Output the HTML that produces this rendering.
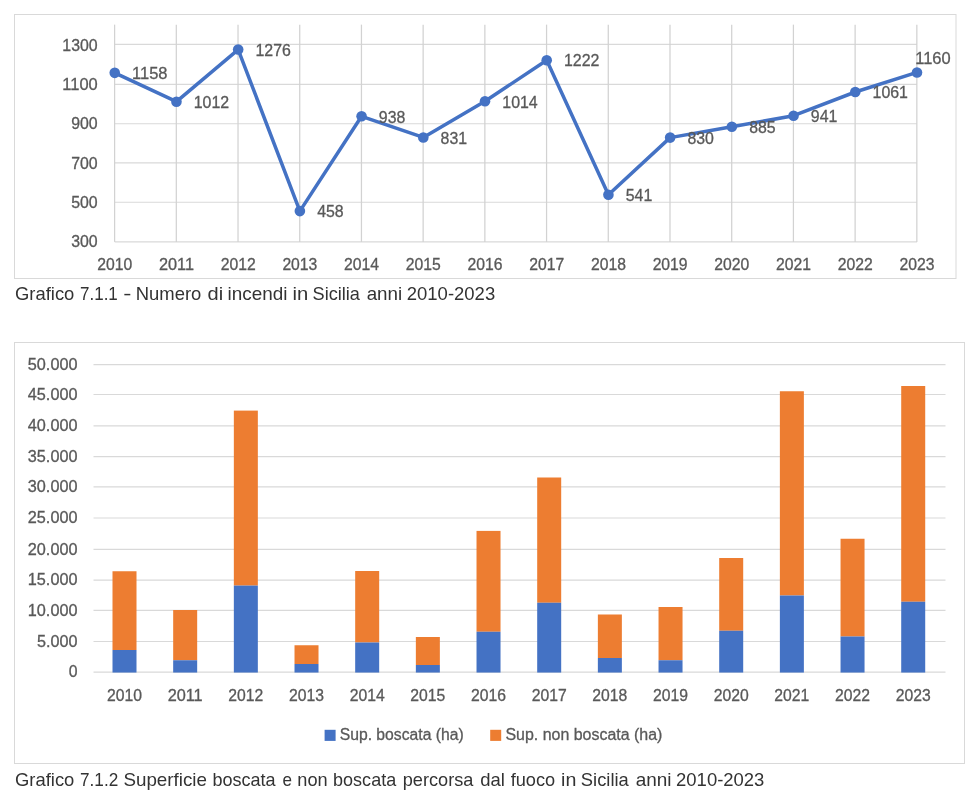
<!DOCTYPE html>
<html lang="it"><head><meta charset="utf-8"><title>Grafici incendi Sicilia 2010-2023</title>
<style>
html,body{margin:0;padding:0;background:#fff;}
body{width:979px;height:800px;overflow:hidden;}
svg{display:block;}
text{font-family:"Liberation Sans",sans-serif;}
.t{font-size:15.8px;fill:#595959;stroke:#595959;stroke-width:0.3px;}
.cap text{font-size:18.2px;fill:#333;}
</style></head><body>
<svg width="979" height="800" viewBox="0 0 979 800">
<rect x="0" y="0" width="979" height="800" fill="#ffffff"/>
<g id="chart1">
<rect x="14.5" y="14.5" width="941.5" height="264" fill="#fff" stroke="#d9d9d9" stroke-width="1"/>
<line x1="114.75" x2="916.98" y1="241.9" y2="241.9" stroke="#d9d9d9" stroke-width="1.2"/>
<line x1="114.75" x2="916.98" y1="202.25" y2="202.25" stroke="#d9d9d9" stroke-width="1.2"/>
<line x1="114.75" x2="916.98" y1="162.9" y2="162.9" stroke="#d9d9d9" stroke-width="1.2"/>
<line x1="114.75" x2="916.98" y1="123.75" y2="123.75" stroke="#d9d9d9" stroke-width="1.2"/>
<line x1="114.75" x2="916.98" y1="84.4" y2="84.4" stroke="#d9d9d9" stroke-width="1.2"/>
<line x1="114.75" x2="916.98" y1="44.4" y2="44.4" stroke="#d9d9d9" stroke-width="1.2"/>
<line x1="114.6" x2="114.6" y1="24.65" y2="241.90" stroke="#d2d2d2" stroke-width="1.25"/>
<line x1="176.31" x2="176.31" y1="24.65" y2="241.90" stroke="#d2d2d2" stroke-width="1.25"/>
<line x1="238.02" x2="238.02" y1="24.65" y2="241.90" stroke="#d2d2d2" stroke-width="1.25"/>
<line x1="299.73" x2="299.73" y1="24.65" y2="241.90" stroke="#d2d2d2" stroke-width="1.25"/>
<line x1="361.44" x2="361.44" y1="24.65" y2="241.90" stroke="#d2d2d2" stroke-width="1.25"/>
<line x1="423.15" x2="423.15" y1="24.65" y2="241.90" stroke="#d2d2d2" stroke-width="1.25"/>
<line x1="484.86" x2="484.86" y1="24.65" y2="241.90" stroke="#d2d2d2" stroke-width="1.25"/>
<line x1="546.57" x2="546.57" y1="24.65" y2="241.90" stroke="#d2d2d2" stroke-width="1.25"/>
<line x1="608.28" x2="608.28" y1="24.65" y2="241.90" stroke="#d2d2d2" stroke-width="1.25"/>
<line x1="669.99" x2="669.99" y1="24.65" y2="241.90" stroke="#d2d2d2" stroke-width="1.25"/>
<line x1="731.7" x2="731.7" y1="24.65" y2="241.90" stroke="#d2d2d2" stroke-width="1.25"/>
<line x1="793.41" x2="793.41" y1="24.65" y2="241.90" stroke="#d2d2d2" stroke-width="1.25"/>
<line x1="855.12" x2="855.12" y1="24.65" y2="241.90" stroke="#d2d2d2" stroke-width="1.25"/>
<line x1="916.83" x2="916.83" y1="24.65" y2="241.90" stroke="#d2d2d2" stroke-width="1.25"/>
<text class="t" x="97.70" y="246.75" text-anchor="end" textLength="26.5" lengthAdjust="spacingAndGlyphs">300</text>
<text class="t" x="97.70" y="207.95" text-anchor="end" textLength="26.5" lengthAdjust="spacingAndGlyphs">500</text>
<text class="t" x="97.70" y="168.75" text-anchor="end" textLength="26.5" lengthAdjust="spacingAndGlyphs">700</text>
<text class="t" x="97.70" y="128.65" text-anchor="end" textLength="26.5" lengthAdjust="spacingAndGlyphs">900</text>
<text class="t" x="97.70" y="89.90" text-anchor="end" textLength="35.4" lengthAdjust="spacingAndGlyphs">1100</text>
<text class="t" x="97.70" y="50.65" text-anchor="end" textLength="35.4" lengthAdjust="spacingAndGlyphs">1300</text>
<text class="t" x="114.75" y="270.25" text-anchor="middle" textLength="35" lengthAdjust="spacingAndGlyphs">2010</text>
<text class="t" x="176.46" y="270.25" text-anchor="middle" textLength="35" lengthAdjust="spacingAndGlyphs">2011</text>
<text class="t" x="238.17" y="270.25" text-anchor="middle" textLength="35" lengthAdjust="spacingAndGlyphs">2012</text>
<text class="t" x="299.88" y="270.25" text-anchor="middle" textLength="35" lengthAdjust="spacingAndGlyphs">2013</text>
<text class="t" x="361.59" y="270.25" text-anchor="middle" textLength="35" lengthAdjust="spacingAndGlyphs">2014</text>
<text class="t" x="423.30" y="270.25" text-anchor="middle" textLength="35" lengthAdjust="spacingAndGlyphs">2015</text>
<text class="t" x="485.01" y="270.25" text-anchor="middle" textLength="35" lengthAdjust="spacingAndGlyphs">2016</text>
<text class="t" x="546.72" y="270.25" text-anchor="middle" textLength="35" lengthAdjust="spacingAndGlyphs">2017</text>
<text class="t" x="608.43" y="270.25" text-anchor="middle" textLength="35" lengthAdjust="spacingAndGlyphs">2018</text>
<text class="t" x="670.14" y="270.25" text-anchor="middle" textLength="35" lengthAdjust="spacingAndGlyphs">2019</text>
<text class="t" x="731.85" y="270.25" text-anchor="middle" textLength="35" lengthAdjust="spacingAndGlyphs">2020</text>
<text class="t" x="793.56" y="270.25" text-anchor="middle" textLength="35" lengthAdjust="spacingAndGlyphs">2021</text>
<text class="t" x="855.27" y="270.25" text-anchor="middle" textLength="35" lengthAdjust="spacingAndGlyphs">2022</text>
<text class="t" x="916.98" y="270.25" text-anchor="middle" textLength="35" lengthAdjust="spacingAndGlyphs">2023</text>
<polyline points="114.75,72.84 176.46,101.68 238.17,49.54 299.88,211.09 361.59,116.30 423.30,137.43 485.01,101.28 546.72,60.21 608.43,194.70 670.14,137.62 731.85,126.76 793.56,115.70 855.27,92.00 916.98,72.45" fill="none" stroke="#4472c4" stroke-width="3.5" stroke-linejoin="round" stroke-linecap="round"/>
<circle cx="114.75" cy="72.84" r="5.3" fill="#4472c4"/>
<circle cx="176.46" cy="101.68" r="5.3" fill="#4472c4"/>
<circle cx="238.17" cy="49.54" r="5.3" fill="#4472c4"/>
<circle cx="299.88" cy="211.09" r="5.3" fill="#4472c4"/>
<circle cx="361.59" cy="116.30" r="5.3" fill="#4472c4"/>
<circle cx="423.30" cy="137.43" r="5.3" fill="#4472c4"/>
<circle cx="485.01" cy="101.28" r="5.3" fill="#4472c4"/>
<circle cx="546.72" cy="60.21" r="5.3" fill="#4472c4"/>
<circle cx="608.43" cy="194.70" r="5.3" fill="#4472c4"/>
<circle cx="670.14" cy="137.62" r="5.3" fill="#4472c4"/>
<circle cx="731.85" cy="126.76" r="5.3" fill="#4472c4"/>
<circle cx="793.56" cy="115.70" r="5.3" fill="#4472c4"/>
<circle cx="855.27" cy="92.00" r="5.3" fill="#4472c4"/>
<circle cx="916.98" cy="72.45" r="5.3" fill="#4472c4"/>
<text class="t" x="132.05" y="79.09" textLength="35.4" lengthAdjust="spacingAndGlyphs">1158</text>
<text class="t" x="193.76" y="107.93" textLength="35.4" lengthAdjust="spacingAndGlyphs">1012</text>
<text class="t" x="255.47" y="55.79" textLength="35.4" lengthAdjust="spacingAndGlyphs">1276</text>
<text class="t" x="317.18" y="217.34" textLength="26.5" lengthAdjust="spacingAndGlyphs">458</text>
<text class="t" x="378.89" y="122.55" textLength="26.5" lengthAdjust="spacingAndGlyphs">938</text>
<text class="t" x="440.60" y="143.68" textLength="26.5" lengthAdjust="spacingAndGlyphs">831</text>
<text class="t" x="502.31" y="107.53" textLength="35.4" lengthAdjust="spacingAndGlyphs">1014</text>
<text class="t" x="564.02" y="66.46" textLength="35.4" lengthAdjust="spacingAndGlyphs">1222</text>
<text class="t" x="625.73" y="200.95" textLength="26.5" lengthAdjust="spacingAndGlyphs">541</text>
<text class="t" x="687.44" y="143.88" textLength="26.5" lengthAdjust="spacingAndGlyphs">830</text>
<text class="t" x="749.15" y="133.01" textLength="26.5" lengthAdjust="spacingAndGlyphs">885</text>
<text class="t" x="810.86" y="121.95" textLength="26.5" lengthAdjust="spacingAndGlyphs">941</text>
<text class="t" x="872.57" y="98.25" textLength="35.4" lengthAdjust="spacingAndGlyphs">1061</text>
<text class="t" x="915.23" y="63.90" textLength="35.4" lengthAdjust="spacingAndGlyphs">1160</text>
</g>
<g class="cap">
<text x="14.99" y="299.80" textLength="59.39" lengthAdjust="spacingAndGlyphs">Grafico</text>
<text x="80.07" y="299.80" textLength="37.75" lengthAdjust="spacingAndGlyphs">7.1.1</text>
<text x="123.16" y="299.80" textLength="8.14" lengthAdjust="spacingAndGlyphs">-</text>
<text x="135.79" y="299.80" textLength="65.55" lengthAdjust="spacingAndGlyphs">Numero</text>
<text x="207.51" y="299.80" textLength="15.60" lengthAdjust="spacingAndGlyphs">di</text>
<text x="227.61" y="299.80" textLength="59.87" lengthAdjust="spacingAndGlyphs">incendi</text>
<text x="292.42" y="299.80" textLength="15.75" lengthAdjust="spacingAndGlyphs">in</text>
<text x="312.56" y="299.80" textLength="47.44" lengthAdjust="spacingAndGlyphs">Sicilia</text>
<text x="366.65" y="299.80" textLength="35.52" lengthAdjust="spacingAndGlyphs">anni</text>
<text x="406.78" y="299.80" textLength="88.42" lengthAdjust="spacingAndGlyphs">2010-2023</text>
</g>
<g id="chart2">
<rect x="14.5" y="342.5" width="950" height="421" fill="#fff" stroke="#d9d9d9" stroke-width="1"/>
<line x1="93.5" x2="945.5" y1="672.1" y2="672.1" stroke="#d9d9d9" stroke-width="1.2"/>
<text class="t" x="77.50" y="677.25" text-anchor="end">0</text>
<line x1="93.5" x2="945.5" y1="641.5" y2="641.5" stroke="#d9d9d9" stroke-width="1.2"/>
<text class="t" x="77.50" y="646.65" text-anchor="end" textLength="40.5" lengthAdjust="spacingAndGlyphs">5.000</text>
<line x1="93.5" x2="945.5" y1="610.4" y2="610.4" stroke="#d9d9d9" stroke-width="1.2"/>
<text class="t" x="77.50" y="615.55" text-anchor="end" textLength="49.7" lengthAdjust="spacingAndGlyphs">10.000</text>
<line x1="93.5" x2="945.5" y1="580.2" y2="580.2" stroke="#d9d9d9" stroke-width="1.2"/>
<text class="t" x="77.50" y="585.35" text-anchor="end" textLength="49.7" lengthAdjust="spacingAndGlyphs">15.000</text>
<line x1="93.5" x2="945.5" y1="549.4" y2="549.4" stroke="#d9d9d9" stroke-width="1.2"/>
<text class="t" x="77.50" y="554.55" text-anchor="end" textLength="49.7" lengthAdjust="spacingAndGlyphs">20.000</text>
<line x1="93.5" x2="945.5" y1="518.0" y2="518.0" stroke="#d9d9d9" stroke-width="1.2"/>
<text class="t" x="77.50" y="523.15" text-anchor="end" textLength="49.7" lengthAdjust="spacingAndGlyphs">25.000</text>
<line x1="93.5" x2="945.5" y1="486.9" y2="486.9" stroke="#d9d9d9" stroke-width="1.2"/>
<text class="t" x="77.50" y="492.05" text-anchor="end" textLength="49.7" lengthAdjust="spacingAndGlyphs">30.000</text>
<line x1="93.5" x2="945.5" y1="456.6" y2="456.6" stroke="#d9d9d9" stroke-width="1.2"/>
<text class="t" x="77.50" y="461.75" text-anchor="end" textLength="49.7" lengthAdjust="spacingAndGlyphs">35.000</text>
<line x1="93.5" x2="945.5" y1="425.8" y2="425.8" stroke="#d9d9d9" stroke-width="1.2"/>
<text class="t" x="77.50" y="430.95" text-anchor="end" textLength="49.7" lengthAdjust="spacingAndGlyphs">40.000</text>
<line x1="93.5" x2="945.5" y1="394.5" y2="394.5" stroke="#d9d9d9" stroke-width="1.2"/>
<text class="t" x="77.50" y="399.65" text-anchor="end" textLength="49.7" lengthAdjust="spacingAndGlyphs">45.000</text>
<line x1="93.5" x2="945.5" y1="364.6" y2="364.6" stroke="#d9d9d9" stroke-width="1.2"/>
<text class="t" x="77.50" y="369.75" text-anchor="end" textLength="49.7" lengthAdjust="spacingAndGlyphs">50.000</text>
<rect x="112.50" y="571.25" width="24" height="78.75" fill="#ed7d31"/>
<rect x="112.50" y="650.00" width="24" height="22.55" fill="#4472c4"/>
<text class="t" x="124.50" y="700.65" text-anchor="middle" textLength="35" lengthAdjust="spacingAndGlyphs">2010</text>
<rect x="173.17" y="610.00" width="24" height="50.25" fill="#ed7d31"/>
<rect x="173.17" y="660.25" width="24" height="12.30" fill="#4472c4"/>
<text class="t" x="185.17" y="700.65" text-anchor="middle" textLength="35" lengthAdjust="spacingAndGlyphs">2011</text>
<rect x="233.84" y="410.60" width="24" height="175.00" fill="#ed7d31"/>
<rect x="233.84" y="585.60" width="24" height="86.95" fill="#4472c4"/>
<text class="t" x="245.84" y="700.65" text-anchor="middle" textLength="35" lengthAdjust="spacingAndGlyphs">2012</text>
<rect x="294.51" y="645.25" width="24" height="18.75" fill="#ed7d31"/>
<rect x="294.51" y="664.00" width="24" height="8.55" fill="#4472c4"/>
<text class="t" x="306.51" y="700.65" text-anchor="middle" textLength="35" lengthAdjust="spacingAndGlyphs">2013</text>
<rect x="355.18" y="571.00" width="24" height="71.50" fill="#ed7d31"/>
<rect x="355.18" y="642.50" width="24" height="30.05" fill="#4472c4"/>
<text class="t" x="367.18" y="700.65" text-anchor="middle" textLength="35" lengthAdjust="spacingAndGlyphs">2014</text>
<rect x="415.85" y="637.00" width="24" height="28.00" fill="#ed7d31"/>
<rect x="415.85" y="665.00" width="24" height="7.55" fill="#4472c4"/>
<text class="t" x="427.85" y="700.65" text-anchor="middle" textLength="35" lengthAdjust="spacingAndGlyphs">2015</text>
<rect x="476.52" y="530.90" width="24" height="100.85" fill="#ed7d31"/>
<rect x="476.52" y="631.75" width="24" height="40.80" fill="#4472c4"/>
<text class="t" x="488.52" y="700.65" text-anchor="middle" textLength="35" lengthAdjust="spacingAndGlyphs">2016</text>
<rect x="537.19" y="477.50" width="24" height="125.25" fill="#ed7d31"/>
<rect x="537.19" y="602.75" width="24" height="69.80" fill="#4472c4"/>
<text class="t" x="549.19" y="700.65" text-anchor="middle" textLength="35" lengthAdjust="spacingAndGlyphs">2017</text>
<rect x="597.86" y="614.50" width="24" height="43.50" fill="#ed7d31"/>
<rect x="597.86" y="658.00" width="24" height="14.55" fill="#4472c4"/>
<text class="t" x="609.86" y="700.65" text-anchor="middle" textLength="35" lengthAdjust="spacingAndGlyphs">2018</text>
<rect x="658.53" y="607.00" width="24" height="53.25" fill="#ed7d31"/>
<rect x="658.53" y="660.25" width="24" height="12.30" fill="#4472c4"/>
<text class="t" x="670.53" y="700.65" text-anchor="middle" textLength="35" lengthAdjust="spacingAndGlyphs">2019</text>
<rect x="719.20" y="558.00" width="24" height="72.75" fill="#ed7d31"/>
<rect x="719.20" y="630.75" width="24" height="41.80" fill="#4472c4"/>
<text class="t" x="731.20" y="700.65" text-anchor="middle" textLength="35" lengthAdjust="spacingAndGlyphs">2020</text>
<rect x="779.87" y="391.25" width="24" height="204.25" fill="#ed7d31"/>
<rect x="779.87" y="595.50" width="24" height="77.05" fill="#4472c4"/>
<text class="t" x="791.87" y="700.65" text-anchor="middle" textLength="35" lengthAdjust="spacingAndGlyphs">2021</text>
<rect x="840.54" y="538.75" width="24" height="97.75" fill="#ed7d31"/>
<rect x="840.54" y="636.50" width="24" height="36.05" fill="#4472c4"/>
<text class="t" x="852.54" y="700.65" text-anchor="middle" textLength="35" lengthAdjust="spacingAndGlyphs">2022</text>
<rect x="901.21" y="386.00" width="24" height="215.75" fill="#ed7d31"/>
<rect x="901.21" y="601.75" width="24" height="70.80" fill="#4472c4"/>
<text class="t" x="913.21" y="700.65" text-anchor="middle" textLength="35" lengthAdjust="spacingAndGlyphs">2023</text>
<rect x="324.6" y="729.8" width="11" height="11.1" fill="#4472c4"/>
<text class="t" x="339.70" y="739.70" textLength="124" lengthAdjust="spacingAndGlyphs">Sup. boscata (ha)</text>
<rect x="490.2" y="729.8" width="11" height="11.1" fill="#ed7d31"/>
<text class="t" x="505.40" y="739.70" textLength="157" lengthAdjust="spacingAndGlyphs">Sup. non boscata (ha)</text>
</g>
<g class="cap">
<text x="14.99" y="786.30" textLength="59.39" lengthAdjust="spacingAndGlyphs">Grafico</text>
<text x="80.06" y="786.30" textLength="38.19" lengthAdjust="spacingAndGlyphs">7.1.2</text>
<text x="123.42" y="786.30" textLength="83.61" lengthAdjust="spacingAndGlyphs">Superficie</text>
<text x="212.39" y="786.30" textLength="63.19" lengthAdjust="spacingAndGlyphs">boscata</text>
<text x="282.62" y="786.30" textLength="9.50" lengthAdjust="spacingAndGlyphs">e</text>
<text x="297.34" y="786.30" textLength="30.33" lengthAdjust="spacingAndGlyphs">non</text>
<text x="333.09" y="786.30" textLength="63.09" lengthAdjust="spacingAndGlyphs">boscata</text>
<text x="402.78" y="786.30" textLength="70.62" lengthAdjust="spacingAndGlyphs">percorsa</text>
<text x="480.18" y="786.30" textLength="24.65" lengthAdjust="spacingAndGlyphs">dal</text>
<text x="510.63" y="786.30" textLength="44.51" lengthAdjust="spacingAndGlyphs">fuoco</text>
<text x="561.06" y="786.30" textLength="15.27" lengthAdjust="spacingAndGlyphs">in</text>
<text x="580.84" y="786.30" textLength="47.95" lengthAdjust="spacingAndGlyphs">Sicilia</text>
<text x="635.75" y="786.30" textLength="35.84" lengthAdjust="spacingAndGlyphs">anni</text>
<text x="676.08" y="786.30" textLength="88.31" lengthAdjust="spacingAndGlyphs">2010-2023</text>
</g>
</svg>
</body></html>
